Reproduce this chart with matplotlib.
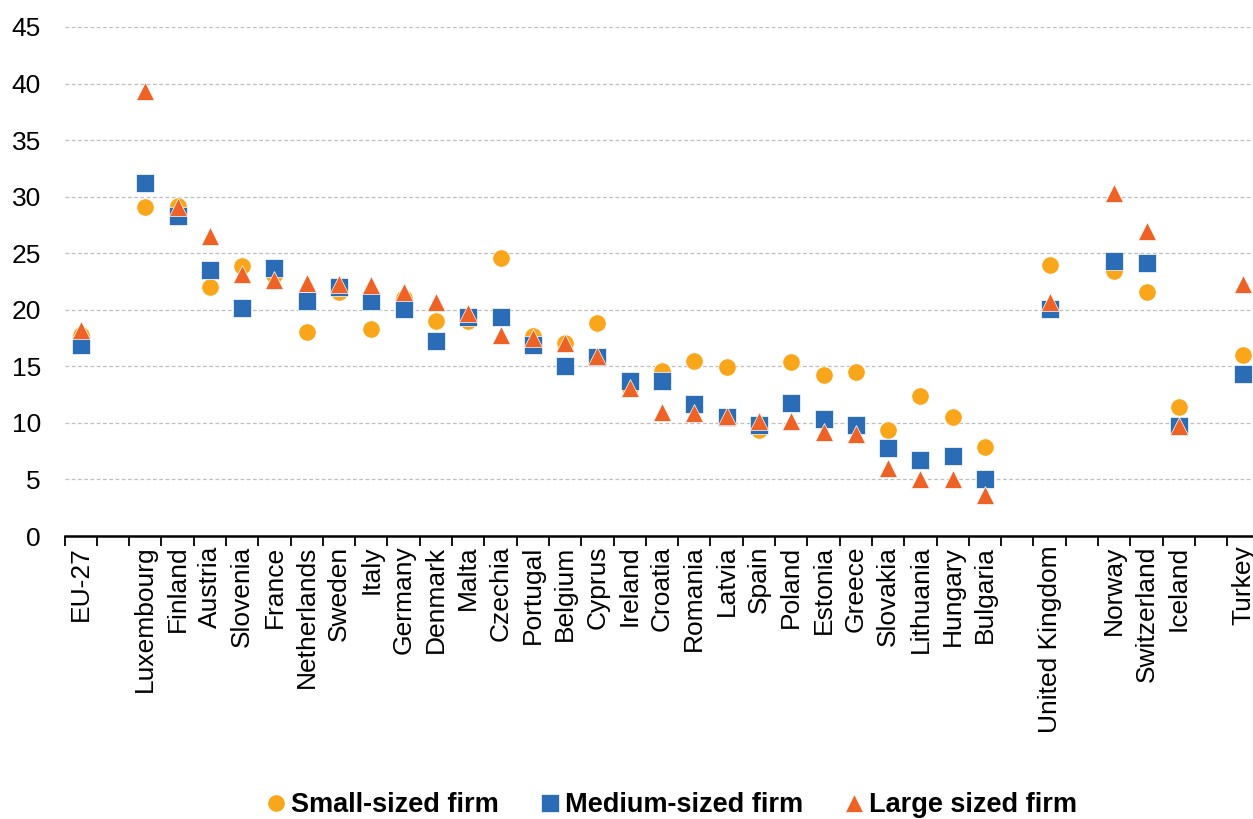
import numpy as np
import matplotlib
matplotlib.use("Agg")
from matplotlib import pyplot as plt

plt.rcParams['font.family'] = ['Liberation Sans', 'DejaVu Sans']

# "" entries are empty slots used as spacers between country groups
countries = ["EU-27", "",
             "Luxembourg", "Finland", "Austria", "Slovenia", "France", "Netherlands",
             "Sweden", "Italy", "Germany", "Denmark", "Malta", "Czechia", "Portugal",
             "Belgium", "Cyprus", "Ireland", "Croatia", "Romania", "Latvia", "Spain",
             "Poland", "Estonia", "Greece", "Slovakia", "Lithuania", "Hungary", "Bulgaria",
             "", "United Kingdom", "", "Norway", "Switzerland", "Iceland", "", "Turkey"]

nan = np.nan
small = [17.8, nan,
         29.1, 29.2, 22.0, 23.9, 23.1, 18.0, 21.6, 18.3, 21.0, 19.0, 19.0, 24.6, 17.7,
         17.1, 18.8, 13.1, 14.6, 15.5, 14.9, 9.4, 15.4, 14.2, 14.5, 9.4, 12.4, 10.5, 7.9,
         nan, 24.0, nan, 23.4, 21.6, 11.4, nan, 16.0]
medium = [16.9, nan,
          31.2, 28.3, 23.5, 20.2, 23.7, 20.8, 22.0, 20.8, 20.1, 17.2, 19.4, 19.4, 16.9,
          15.0, 15.8, 13.7, 13.7, 11.7, 10.5, 9.8, 11.8, 10.3, 9.8, 7.8, 6.7, 7.1, 5.0,
          nan, 20.1, nan, 24.3, 24.1, 9.7, nan, 14.3]
large = [18.2, nan,
         39.3, 29.1, 26.5, 23.2, 22.6, 22.4, 22.3, 22.2, 21.6, 20.7, 19.7, 17.8, 17.5,
         17.1, 15.9, 13.1, 11.0, 10.9, 10.6, 10.2, 10.2, 9.2, 9.0, 6.0, 5.0, 5.0, 3.6,
         nan, 20.7, nan, 30.3, 27.0, 9.7, nan, 22.3]

x = np.arange(len(countries))

fig = plt.figure(figsize=(12.53, 8.19), dpi=100)
ax = fig.add_axes([64.5 / 1253, 283 / 819, 37 * 32.3 / 1253, 509 / 819])

ax.plot(x, small, ls='none', marker='o', ms=12.5, color='#F9A61A',
        mec='white', mew=0.5, label='Small-sized firm', zorder=3)
ax.plot(x, medium, ls='none', marker='s', ms=12.5, color='#2A6CB5',
        mec='white', mew=0.5, label='Medium-sized firm', zorder=4)
ax.plot(x, large, ls='none', marker='^', ms=13, color='#EE6325',
        mec='white', mew=0.5, label='Large sized firm', zorder=5)

ax.set_xlim(-0.5, len(countries) - 0.5)
ax.set_ylim(0, 45)
ax.set_yticks(np.arange(0, 46, 5))
ax.yaxis.grid(True, ls=(0, (3, 2)), color='#BFBFBF', lw=0.9)
ax.set_axisbelow(True)

# tick marks sit between categories, labels at category centres
ax.set_xticks(np.arange(-0.5, len(countries), 1.0))
ax.set_xticklabels([])
ax.set_xticks(x, minor=True)
ax.set_xticklabels(countries, minor=True, rotation=90, fontsize=19)
ax.tick_params(axis='x', which='major', length=7, width=1.3, direction='out')
ax.tick_params(axis='x', which='minor', length=0, pad=7)
ax.tick_params(axis='y', length=0, labelsize=19, pad=17)

for s in ['top', 'right', 'left']:
    ax.spines[s].set_visible(False)
ax.spines['bottom'].set_linewidth(1.8)
ax.spines['bottom'].set_color('black')

fig.legend(loc='center', bbox_to_anchor=(0.535, 0.017), ncol=3, frameon=False,
           prop={'size': 19.5, 'weight': 'bold'}, handletextpad=0.1,
           columnspacing=1.45, handlelength=0.9, markerscale=1.0)

fig.savefig('out.png', dpi=100)
